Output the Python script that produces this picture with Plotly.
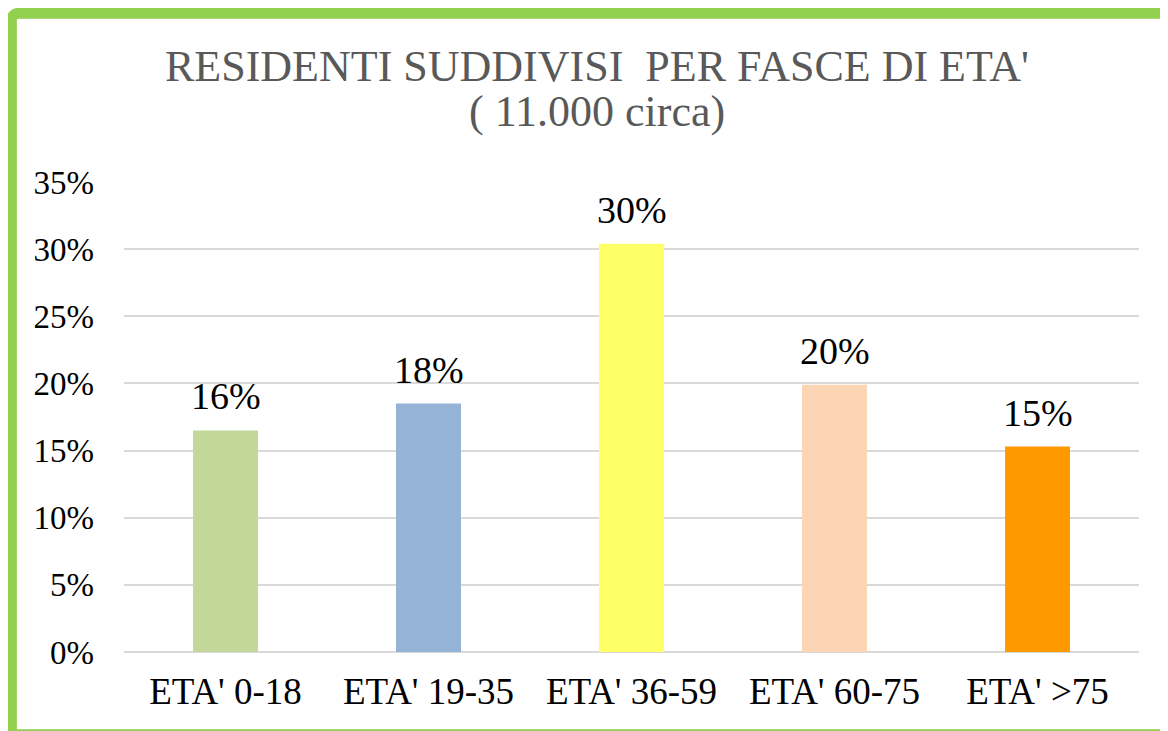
import plotly.graph_objects as go

categories = ["ETA' 0-18", "ETA' 19-35", "ETA' 36-59", "ETA' 60-75", "ETA' >75"]
values = [16.5, 18.5, 30.4, 19.9, 15.3]
labels = ["16%", "18%", "30%", "20%", "15%"]
colors = ["#C4D79B", "#95B3D7", "#FFFF66", "#FCD5B4", "#FF9900"]
y_ticks = [0, 5, 10, 15, 20, 25, 30, 35]
y_tick_text = ["0%", "5%", "10%", "15%", "20%", "25%", "30%", "35%"]

W, H = 1168, 731
OFF = 8  # page body margin offset
L, R, T, B = 124 - OFF, 1139 - OFF, 182 - OFF, 652 - OFF
pw, ph = R - L, B - T


def px(x):
    return (x - OFF - L) / pw


def py(y):
    return (B - (y - OFF)) / ph


fig = go.Figure()
fig.add_trace(go.Bar(
    x=categories, y=values, marker=dict(color=colors, line=dict(width=0)),
    width=0.32, hoverinfo="skip",
))

serif = "Liberation Serif, Times New Roman, serif"

annotations = []
for c, v, t in zip(categories, values, labels):
    annotations.append(dict(
        x=c, y=v, xref="x", yref="y", text=t, showarrow=False,
        yanchor="bottom", yshift=11,
        font=dict(family=serif, size=38, color="#000000"),
    ))

annotations.append(dict(
    x=px(597), y=py(66), xref="paper", yref="paper",
    text="RESIDENTI SUDDIVISI  PER FASCE DI ETA'", showarrow=False,
    xanchor="center", yanchor="middle",
    font=dict(family=serif, size=44, color="#595959"),
))
annotations.append(dict(
    x=px(597), y=py(112), xref="paper", yref="paper",
    text="( 11.000 circa)", showarrow=False,
    xanchor="center", yanchor="middle",
    font=dict(family=serif, size=44, color="#595959"),
))

# green frame with rounded top-left corner
x0, y0 = px(11.5), py(13.3)
xr, yb = px(1195), py(734.5)
rx, ry = px(11.5 + 8) - px(11.5), py(13.3) - py(13.3 + 8)
path = (f"M {x0},{yb} L {x0},{y0 - ry} Q {x0},{y0} {x0 + rx},{y0} "
        f"L {xr},{y0} L {xr},{yb} Z")
shapes = [dict(type="path", xref="paper", yref="paper", path=path,
               line=dict(color="#92D050", width=10.7), fillcolor="rgba(0,0,0,0)",
               layer="below")]

fig.update_layout(
    width=W, height=H,
    margin=dict(l=L, r=W - R, t=T, b=H - B, pad=0),
    paper_bgcolor="white", plot_bgcolor="white",
    showlegend=False,
    annotations=annotations,
    shapes=shapes,
    xaxis=dict(
        tickfont=dict(family=serif, size=37, color="#000000"),
        showgrid=False, showline=False, ticks="", ticklabelstandoff=14,
    ),
    yaxis=dict(
        range=[0, 35], tickvals=y_ticks, ticktext=y_tick_text,
        tickfont=dict(family=serif, size=33, color="#000000"),
        showgrid=True, gridcolor="#D9D9D9", gridwidth=2,
        zeroline=True, zerolinecolor="#D9D9D9", zerolinewidth=2,
        showline=False, ticks="", ticklabelstandoff=29,
    ),
)

fig.write_html("out.html")
